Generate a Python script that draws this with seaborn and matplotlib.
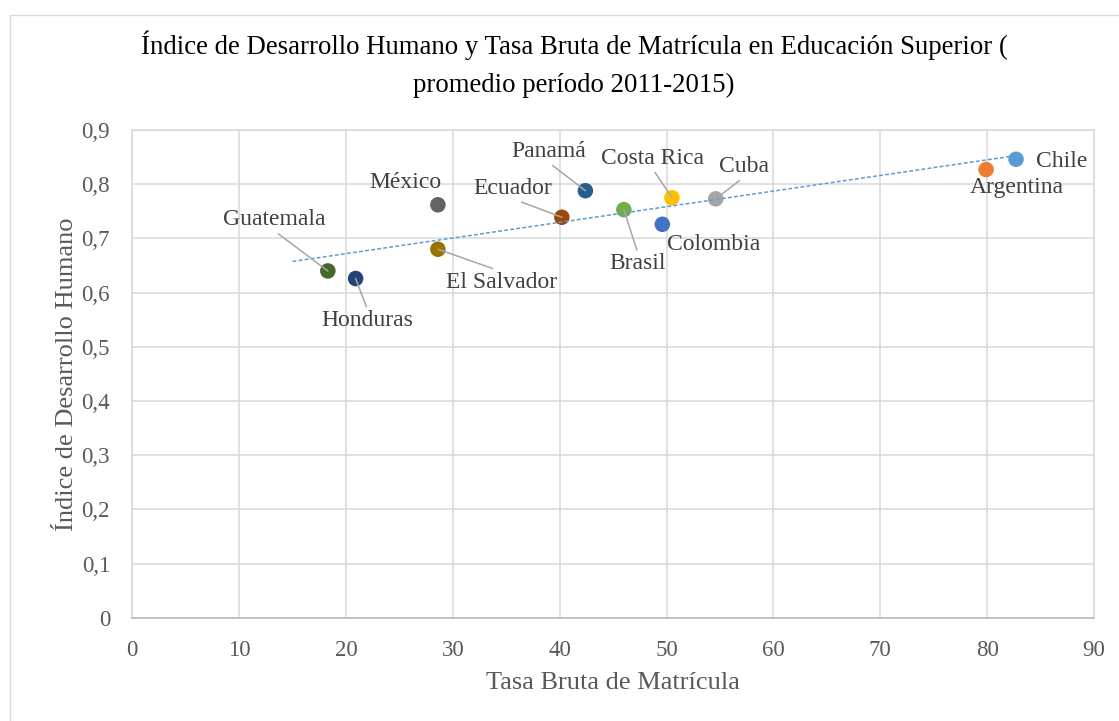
import numpy as np
import pandas as pd
import matplotlib
matplotlib.use("Agg")
import matplotlib.pyplot as plt
import seaborn as sns
from matplotlib.patches import Rectangle

# data
countries = ["Chile", "Argentina", "Cuba", "Costa Rica", "Colombia", "Brasil",
             "Panamá", "Ecuador", "México", "El Salvador", "Honduras", "Guatemala"]
tasa_matricula = [82.7, 79.9, 54.6, 50.5, 49.6, 46.0, 42.4, 40.2, 28.6, 28.6, 20.9, 18.3]
idh = [0.846, 0.827, 0.773, 0.775, 0.726, 0.753, 0.788, 0.739, 0.762, 0.680, 0.626, 0.640]
colors = ["#5B9BD5", "#ED7D31", "#A5A5A5", "#FFC000", "#4472C4", "#70AD47",
          "#255E91", "#9E480E", "#636363", "#997300", "#264478", "#43682B"]
trend_start = 15

x_ticks = [0, 10, 20, 30, 40, 50, 60, 70, 80, 90]
y_ticks = [0, 0.1, 0.2, 0.3, 0.4, 0.5, 0.6, 0.7, 0.8, 0.9]
y_tick_labels = ["0", "0,1", "0,2", "0,3", "0,4", "0,5", "0,6", "0,7", "0,8", "0,9"]

# label offsets from the point, in pixels (dx, dy up), and leader line flag
label_pos = {
    "Chile": (46, -2, False),
    "Argentina": (31, -18, False),
    "Cuba": (28, 32, True),
    "Costa Rica": (-19, 39, True),
    "Colombia": (51, -20, False),
    "Brasil": (14, -54, True),
    "Panamá": (-37, 39, True),
    "Ecuador": (-49, 29, True),
    "México": (-32, 22, False),
    "El Salvador": (64, -33, True),
    "Honduras": (12, -42, True),
    "Guatemala": (-54, 51, True),
}

df = pd.DataFrame({"pais": countries, "tbm": tasa_matricula, "idh": idh})

sns.set_style("white")
plt.rcParams["font.family"] = ["Liberation Serif", "DejaVu Serif"]

fig = plt.figure(figsize=(11.19, 7.21), dpi=100)
ax = fig.add_axes([0.1182, 0.1431, 0.8595, 0.6766])

# chart area border
fig.patches.append(Rectangle((10 / 1119, -0.2), 1.2, 1.2 - 15 / 721,
                             transform=fig.transFigure, fill=False,
                             edgecolor="#D9D9D9", linewidth=1.0))

sns.scatterplot(data=df, x="tbm", y="idh", hue="pais", palette=colors,
                s=125, edgecolor="none", legend=False, ax=ax, zorder=2)

# linear trend line
z = np.polyfit(df["tbm"], df["idh"], 1)
tx = np.array([trend_start, df["tbm"].max()])
ax.plot(tx, np.poly1d(z)(tx), color="#5B9BD5", linewidth=1.1,
        linestyle=(0, (2.5, 1.5)), zorder=3)

for name, xv, yv in zip(countries, tasa_matricula, idh):
    dx, dy, leader = label_pos[name]
    kw = dict(xy=(xv, yv), xytext=(dx * 0.72, dy * 0.72),
              textcoords="offset points", ha="center", va="center",
              fontsize=17, color="#404040", zorder=4)
    if leader:
        kw["arrowprops"] = dict(arrowstyle="-", color="#A6A6A6", lw=1.1,
                                shrinkA=0, shrinkB=0,
                                relpos=(0.5, 0.0) if dy > 0 else (0.5, 1.0))
    ax.annotate(name, **kw)

ax.set_xlim(0, 90)
ax.set_ylim(0, 0.9)
ax.set_xticks(x_ticks)
ax.set_xticklabels([str(t) for t in x_ticks])
ax.set_yticks(y_ticks)
ax.set_yticklabels(y_tick_labels)
ax.tick_params(axis="both", length=0, labelsize=16.5, colors="#595959")
ax.tick_params(axis="x", pad=16)
ax.tick_params(axis="y", pad=16)

ax.grid(True, color="#D9D9D9", linewidth=1.1)
ax.set_axisbelow(True)
for side in ["left", "right", "top"]:
    ax.spines[side].set_color("#D9D9D9")
    ax.spines[side].set_linewidth(1.1)
ax.spines["bottom"].set_color("#BFBFBF")
ax.spines["bottom"].set_linewidth(1.3)

ax.set_xlabel("Tasa Bruta de Matrícula", fontsize=19, color="#595959")
ax.set_ylabel("Índice de Desarrollo Humano", fontsize=19, color="#595959")
ax.xaxis.set_label_coords(0.5, -0.111)
ax.yaxis.set_label_coords(-0.0565, 0.5)

fig.text(574 / 1119, 1 - 64 / 721,
         "Índice de Desarrollo Humano y Tasa Bruta de Matrícula en Educación Superior (\n"
         "promedio período 2011-2015)",
         ha="center", va="center", fontsize=19.3, color="#000000",
         linespacing=1.67)

fig.savefig("out.png", dpi=100)
